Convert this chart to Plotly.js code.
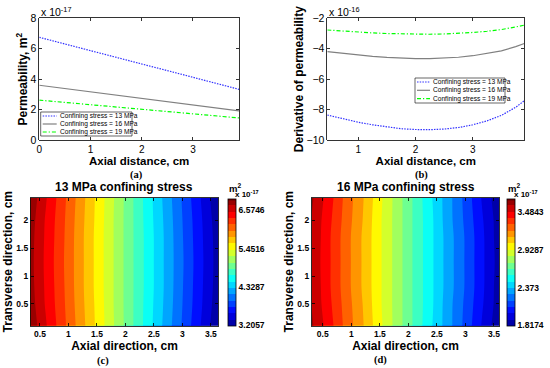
<!DOCTYPE html>
<html><head><meta charset="utf-8">
<script src="https://cdn.plot.ly/plotly-3.0.1.min.js"></script>
<style>html,body{margin:0;padding:0;background:#fff}#c{width:550px;height:368px}</style>
</head><body><div id="c"></div>
<script>
// ---------- data ----------
const seriesNames = ['Confining stress = 13 MPa', 'Confining stress = 16 MPa', 'Confining stress = 19 MPa'];
// (a) permeability (x 1e-17 m^2) vs axial distance
const xA = [0, 0.3, 0.6, 0.9, 1.2, 1.5, 1.8, 2.1, 2.4, 2.7, 3.0, 3.3, 3.6, 3.9];
const blueA  = [6.75, 6.48, 6.22, 5.95, 5.69, 5.43, 5.17, 4.91, 4.65, 4.39, 4.13, 3.87, 3.60, 3.33];
const grayA  = [3.60, 3.47, 3.34, 3.21, 3.08, 2.95, 2.82, 2.69, 2.56, 2.43, 2.30, 2.17, 2.04, 1.91];
const greenA = [2.62, 2.53, 2.44, 2.35, 2.26, 2.17, 2.08, 1.99, 1.90, 1.81, 1.72, 1.63, 1.54, 1.45];
// (b) derivative of permeability (x 1e-16)
const xB = [0.46, 0.75, 1.0, 1.25, 1.5, 1.75, 2.0, 2.25, 2.5, 2.75, 3.0, 3.25, 3.5, 3.75, 3.9];
const blueB  = [-8.36, -8.62, -8.83, -9.00, -9.15, -9.26, -9.31, -9.32, -9.28, -9.18, -9.00, -8.74, -8.38, -7.85, -7.42];
const grayB  = [-4.19, -4.32, -4.42, -4.50, -4.57, -4.62, -4.65, -4.65, -4.62, -4.56, -4.46, -4.32, -4.14, -3.86, -3.66];
const greenB = [-2.77, -2.85, -2.91, -2.96, -3.00, -3.03, -3.05, -3.05, -3.03, -2.99, -2.93, -2.85, -2.74, -2.57, -2.45];
// (c) 13 MPa permeability field (x 1e-17 m^2)
const xC = [0.33, 0.6, 0.9, 1.2, 1.5, 1.8, 2.1, 2.4, 2.7, 3.0, 3.3, 3.63];
const yC = [0.11, 0.5, 0.8, 1.25, 1.7, 2.0, 2.4];
const zC = [
  [6.87, 6.57, 6.24, 5.91, 5.58, 5.25, 4.92, 4.59, 4.26, 3.93, 3.60, 3.23],
  [6.83, 6.53, 6.22, 5.89, 5.57, 5.24, 4.92, 4.60, 4.28, 3.95, 3.63, 3.27],
  [6.81, 6.52, 6.21, 5.88, 5.56, 5.24, 4.92, 4.61, 4.29, 3.96, 3.64, 3.29],
  [6.80, 6.51, 6.20, 5.88, 5.56, 5.24, 4.92, 4.61, 4.29, 3.97, 3.65, 3.30],
  [6.81, 6.52, 6.21, 5.88, 5.56, 5.24, 4.92, 4.61, 4.29, 3.96, 3.64, 3.29],
  [6.83, 6.53, 6.22, 5.89, 5.57, 5.24, 4.92, 4.60, 4.28, 3.95, 3.63, 3.27],
  [6.87, 6.57, 6.24, 5.91, 5.58, 5.25, 4.92, 4.59, 4.26, 3.93, 3.60, 3.23]
];
const cbTicksC = [3.2057, 4.3287, 5.4516, 6.5746];
const cbTextC = ['3.2057', '4.3287', '5.4516', '6.5746'];
const cRangeC = [3.2057, 6.92];
// (d) 16 MPa permeability field (x 1e-17 m^2)
const xD = [0.31, 0.6, 0.9, 1.2, 1.5, 1.8, 2.1, 2.4, 2.7, 3.0, 3.3, 3.59];
const yD = [0.11, 0.5, 0.8, 1.25, 1.7, 2.0, 2.4];
const zD = [
  [3.60, 3.45, 3.28, 3.13, 2.96, 2.80, 2.64, 2.48, 2.32, 2.16, 1.99, 1.84],
  [3.58, 3.43, 3.27, 3.12, 2.95, 2.80, 2.64, 2.49, 2.32, 2.17, 2.01, 1.86],
  [3.58, 3.42, 3.26, 3.11, 2.95, 2.80, 2.64, 2.49, 2.33, 2.18, 2.02, 1.86],
  [3.57, 3.42, 3.26, 3.11, 2.95, 2.80, 2.64, 2.49, 2.33, 2.18, 2.02, 1.87],
  [3.58, 3.42, 3.26, 3.11, 2.95, 2.80, 2.64, 2.49, 2.33, 2.18, 2.02, 1.86],
  [3.58, 3.43, 3.27, 3.12, 2.95, 2.80, 2.64, 2.49, 2.32, 2.17, 2.01, 1.86],
  [3.60, 3.45, 3.28, 3.13, 2.96, 2.80, 2.64, 2.48, 2.32, 2.16, 1.99, 1.84]
];
const cbTicksD = [1.8174, 2.373, 2.9287, 3.4843];
const cbTextD = ['1.8174', '2.373', '2.9287', '3.4843'];
const cRangeD = [1.8174, 3.679];

// ---------- styling ----------
const W = 550, H = 368;
const px = v => v / W, py = v => 1 - v / H;
const FONT = 'Arial, "Liberation Sans", sans-serif';
const SERIF = '"Times New Roman", "Liberation Serif", serif';
const lineColors = ['rgb(50,50,255)', 'rgb(128,128,128)', 'rgb(0,255,0)'];
const lineDash = ['1.5px,1.2px', 'solid', '4px,2px,1.2px,2px'];
const jet = [[0, 'rgb(0,0,143)'], [0.111, 'rgb(0,0,255)'], [0.365, 'rgb(0,255,255)'],
             [0.619, 'rgb(255,255,0)'], [0.873, 'rgb(255,0,0)'], [1, 'rgb(128,0,0)']];

function lineTrace(x, y, i, xa, ya) {
  return {type: 'scatter', mode: 'lines', x: x, y: y, name: seriesNames[i], xaxis: xa, yaxis: ya,
          showlegend: false, line: {color: lineColors[i], width: 1.2, dash: lineDash[i]}};
}
function contourTrace(x, y, z, range, ticks, text, xa, ya, cbx) {
  return {type: 'contour', x: x, y: y, z: z, xaxis: xa, yaxis: ya, colorscale: jet,
          zauto: false, zmin: range[0], zmax: range[1],
          autocontour: false,
          contours: {start: range[0], end: range[1], size: (range[1] - range[0]) / 20, coloring: 'fill', showlines: false},
          line: {width: 0},
          colorbar: {x: px(cbx), xanchor: 'left', y: py(262), yanchor: 'middle', len: 127.4 / H, lenmode: 'fraction',
                     thickness: 8, thicknessmode: 'pixels', outlinewidth: 0.8, outlinecolor: '#000',
                     tickvals: ticks, ticktext: text, ticks: '', xpad: 0, ypad: 0,
                     tickfont: {family: FONT, size: 8.5, color: '#000', weight: 'bold'}}};
}

const traces = [
  lineTrace(xA, blueA, 0, 'x', 'y'), lineTrace(xA, grayA, 1, 'x', 'y'), lineTrace(xA, greenA, 2, 'x', 'y'),
  lineTrace(xB, blueB, 0, 'x2', 'y2'), lineTrace(xB, grayB, 1, 'x2', 'y2'), lineTrace(xB, greenB, 2, 'x2', 'y2'),
  contourTrace(xC, yC, zC, cRangeC, cbTicksC, cbTextC, 'x3', 'y3', 227.7),
  contourTrace(xD, yD, zD, cRangeD, cbTicksD, cbTextD, 'x4', 'y4', 506.7)
];

function axis(domain, range, dtick, title, opts) {
  const o = {domain: domain, range: range, dtick: dtick, tick0: 0, showgrid: false, zeroline: false,
             showline: true, linecolor: '#000', linewidth: 0.8, mirror: 'ticks', ticks: 'inside',
             ticklen: 3, tickwidth: 0.8, tickcolor: '#000',
             tickfont: {family: FONT, size: opts.tickSize, color: '#000', weight: opts.tickWeight || 'normal'},
             title: {text: '<b>' + title + '</b>', font: {family: FONT, size: opts.titleSize || 12, color: '#000'}, standoff: opts.standoff}};
  if (opts.anchor) o.anchor = opts.anchor;
  return o;
}

const layout = {
  width: W, height: H, margin: {l: 0, r: 0, t: 0, b: 0}, paper_bgcolor: '#fff', plot_bgcolor: '#fff',
  showlegend: false,
  xaxis:  axis([px(39.3), px(239)], [0, 3.9], 1, 'Axial distance, cm', {anchor: 'y', tickSize: 10, titleSize: 11.5, standoff: 0}),
  yaxis:  axis([py(140), py(18.3)], [0, 8], 2, 'Permeability, m<sup>2</sup>', {anchor: 'x', tickSize: 10.5, standoff: 0}),
  xaxis2: axis([px(327.3), px(524.3)], [0.46, 3.9], 1, 'Axial distance, cm', {anchor: 'y2', tickSize: 10, titleSize: 11.5, standoff: 0}),
  yaxis2: axis([py(140), py(18.3)], [-10, -2], 2, 'Derivative of permeability', {anchor: 'x2', tickSize: 10.5, standoff: 0}),
  xaxis3: axis([px(30.7), px(218.3)], [0.337, 3.63], 0.5, 'Axial direction, cm', {anchor: 'y3', tickSize: 8.5, tickWeight: 'bold', standoff: 0}),
  yaxis3: axis([py(325.7), py(197.7)], [0.11, 2.405], 0.5, 'Transverse direction, cm', {anchor: 'x3', tickSize: 8.5, tickWeight: 'bold', standoff: 1}),
  xaxis4: axis([px(311.7), px(499.3)], [0.307, 3.593], 0.5, 'Axial direction, cm', {anchor: 'y4', tickSize: 8.5, tickWeight: 'bold', standoff: 0}),
  yaxis4: axis([py(325.7), py(197.7)], [0.11, 2.405], 0.5, 'Transverse direction, cm', {anchor: 'x4', tickSize: 8.5, tickWeight: 'bold', standoff: 1}),
  shapes: [], annotations: []
};
layout.yaxis3.tick0 = 0.5; layout.yaxis4.tick0 = 0.5;
layout.xaxis3.tick0 = 0.5; layout.xaxis4.tick0 = 0.5;

const A = layout.annotations, S = layout.shapes;
function txt(text, x, y, size, opts) {
  A.push(Object.assign({text: text, x: px(x), y: py(y), xref: 'paper', yref: 'paper', showarrow: false,
    xanchor: 'left', yanchor: 'middle', font: {family: FONT, size: size, color: '#000'}}, opts || {}));
}
// exponent labels
txt('x 10<sup>-17</sup>', 38.5, 11.5, 10.5);
txt('x 10<sup>-16</sup>', 326.5, 11.5, 10.5);
// panel titles
txt('<b>13 MPa confining stress</b>', 124.5, 187, 12, {xanchor: 'center'});
txt('<b>16 MPa confining stress</b>', 405.5, 187, 12, {xanchor: 'center'});
// colorbar units
txt('<b>m<sup>2</sup></b>', 227, 188, 9.5);
txt('<b>x 10<sup>-17</sup></b>', 232.5, 193.5, 8);
txt('<b>m<sup>2</sup></b>', 506, 188, 9.5);
txt('<b>x 10<sup>-17</sup></b>', 511.5, 193.5, 8);
// sub-figure labels
[['(a)', 136.7, 174.5], ['(b)', 421, 174.5], ['(c)', 102.5, 361], ['(d)', 380, 360]].forEach(l =>
  txt('<b>' + l[0] + '</b>', l[1], l[2], 10.5, {xanchor: 'center', font: {family: SERIF, size: 10.5, color: '#000'}}));

// manual legends (box, line samples, labels)
function legend(x0, y0, x1, y1, rows, lineX0, lineX1, textX) {
  S.push({type: 'rect', xref: 'paper', yref: 'paper', x0: px(x0), x1: px(x1), y0: py(y1), y1: py(y0),
          line: {color: '#000', width: 0.6}, fillcolor: '#fff', layer: 'above'});
  rows.forEach((ry, i) => {
    S.push({type: 'line', xref: 'paper', yref: 'paper', x0: px(lineX0), x1: px(lineX1), y0: py(ry), y1: py(ry),
            line: {color: lineColors[i], width: 1.2, dash: lineDash[i]}, layer: 'above'});
    txt(seriesNames[i], textX, ry, 6.6);
  });
}
legend(40.7, 112, 132, 136, [116, 124, 132], 42.7, 56.7, 58);
legend(415, 78, 505, 103, [82, 90.3, 98.7], 417, 430, 430.5);

Plotly.newPlot('c', traces, layout, {staticPlot: true});
</script></body></html>
